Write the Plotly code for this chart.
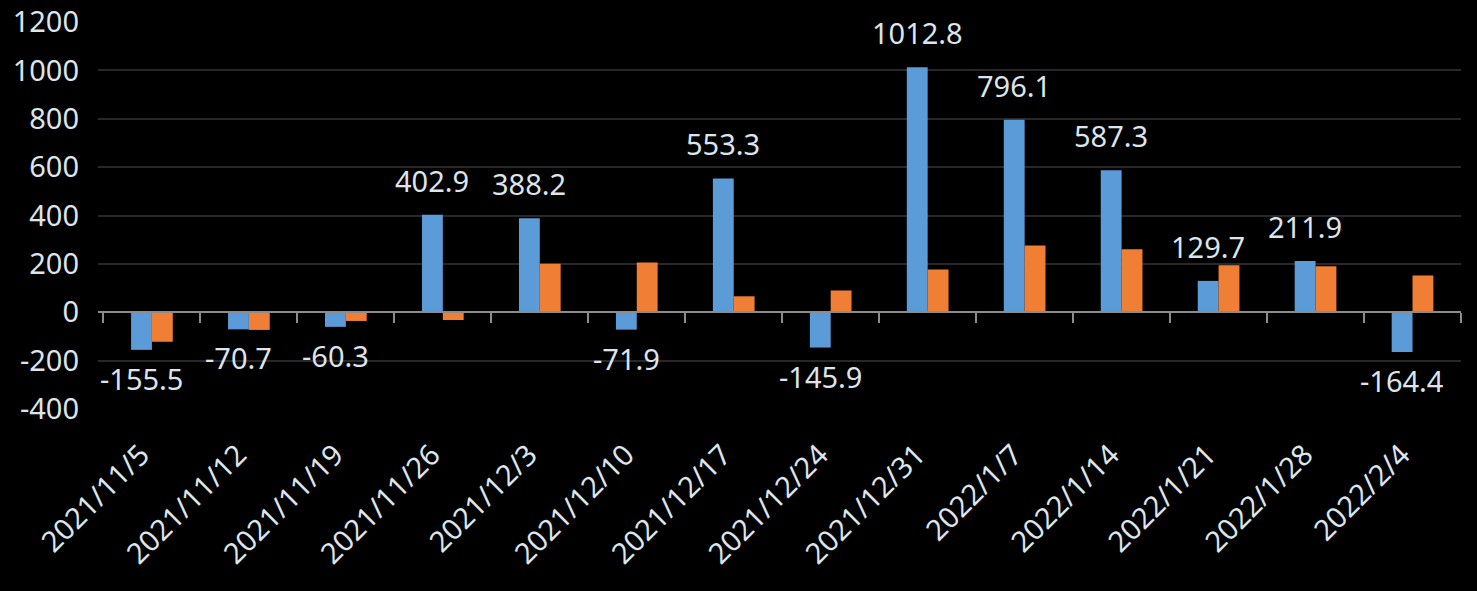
import plotly.graph_objects as go

categories = ["2021/11/5", "2021/11/12", "2021/11/19", "2021/11/26", "2021/12/3",
              "2021/12/10", "2021/12/17", "2021/12/24", "2021/12/31", "2022/1/7",
              "2022/1/14", "2022/1/21", "2022/1/28", "2022/2/4"]
series_blue = [-155.5, -70.7, -60.3, 402.9, 388.2, -71.9, 553.3, -145.9,
               1012.8, 796.1, 587.3, 129.7, 211.9, -164.4]
series_orange = [-122, -73, -36, -32, 201, 206, 66, 90, 177, 276, 260, 194, 190, 152]
y_ticks = [-400, -200, 0, 200, 400, 600, 800, 1000, 1200]
y_tick_labels = [str(v) for v in y_ticks]

BLUE = "#5b9bd8"
ORANGE = "#f07f35"
TXT = "#dde4ea"
FONT = "Noto Sans"
FS = 29
BARGAP = 0.57

fig = go.Figure()
fig.add_trace(go.Bar(x=categories, y=series_blue, marker=dict(color=BLUE, line=dict(width=0)),
                     showlegend=False, hoverinfo="skip"))
fig.add_trace(go.Bar(x=categories, y=series_orange, marker=dict(color=ORANGE, line=dict(width=0)),
                     showlegend=False, hoverinfo="skip"))
# invisible trace to materialize the zero-line axis
fig.add_trace(go.Scatter(x=categories, y=[0] * len(categories), mode="none", xaxis="x2",
                         showlegend=False, hoverinfo="skip"))

offset = (1 - BARGAP) / 4
annotations = []
for i, v in enumerate(series_blue):
    annotations.append(dict(
        x=i - offset, y=v, xref="x", yref="y", text=f"{v:.1f}", showarrow=False,
        yanchor="bottom" if v >= 0 else "top", yshift=13 if v >= 0 else -7,
        font=dict(family=FONT, size=FS, color=TXT)))

fig.update_layout(
    width=1477, height=591,
    paper_bgcolor="#000000", plot_bgcolor="#000000",
    margin=dict(l=98, r=16, t=22, b=182, autoexpand=False),
    barmode="group", bargap=BARGAP, bargroupgap=0,
    font=dict(family=FONT, size=FS, color=TXT),
    annotations=annotations,
    xaxis=dict(type="category", showgrid=False, zeroline=False, showline=False,
               automargin=False, ticks="", tickangle=-45,
               ticklabelstandoff=22, ticklabelshift=-11,
               tickfont=dict(family=FONT, size=FS, color=TXT)),
    xaxis2=dict(type="category", overlaying="x", matches="x", anchor="free",
                position=(0 - y_ticks[0]) / (y_ticks[-1] - y_ticks[0]),
                side="bottom", showgrid=False, zeroline=False, automargin=False,
                showline=True, linecolor="#8c8c8c", linewidth=2,
                ticks="outside", tickson="boundaries", ticklen=10, tickwidth=2,
                tickcolor="#8c8c8c", showticklabels=False),
    yaxis=dict(range=[y_ticks[0], y_ticks[-1]], tickvals=y_ticks, ticktext=y_tick_labels,
               showgrid=True, gridcolor="#282828", gridwidth=2, zeroline=False,
               showline=False, ticks="", ticklabelstandoff=18, automargin=False,
               tickfont=dict(family=FONT, size=FS, color=TXT)),
)

fig.write_html("out.html", config={"displayModeBar": False},
               post_script="document.body.style.margin='0px';")
